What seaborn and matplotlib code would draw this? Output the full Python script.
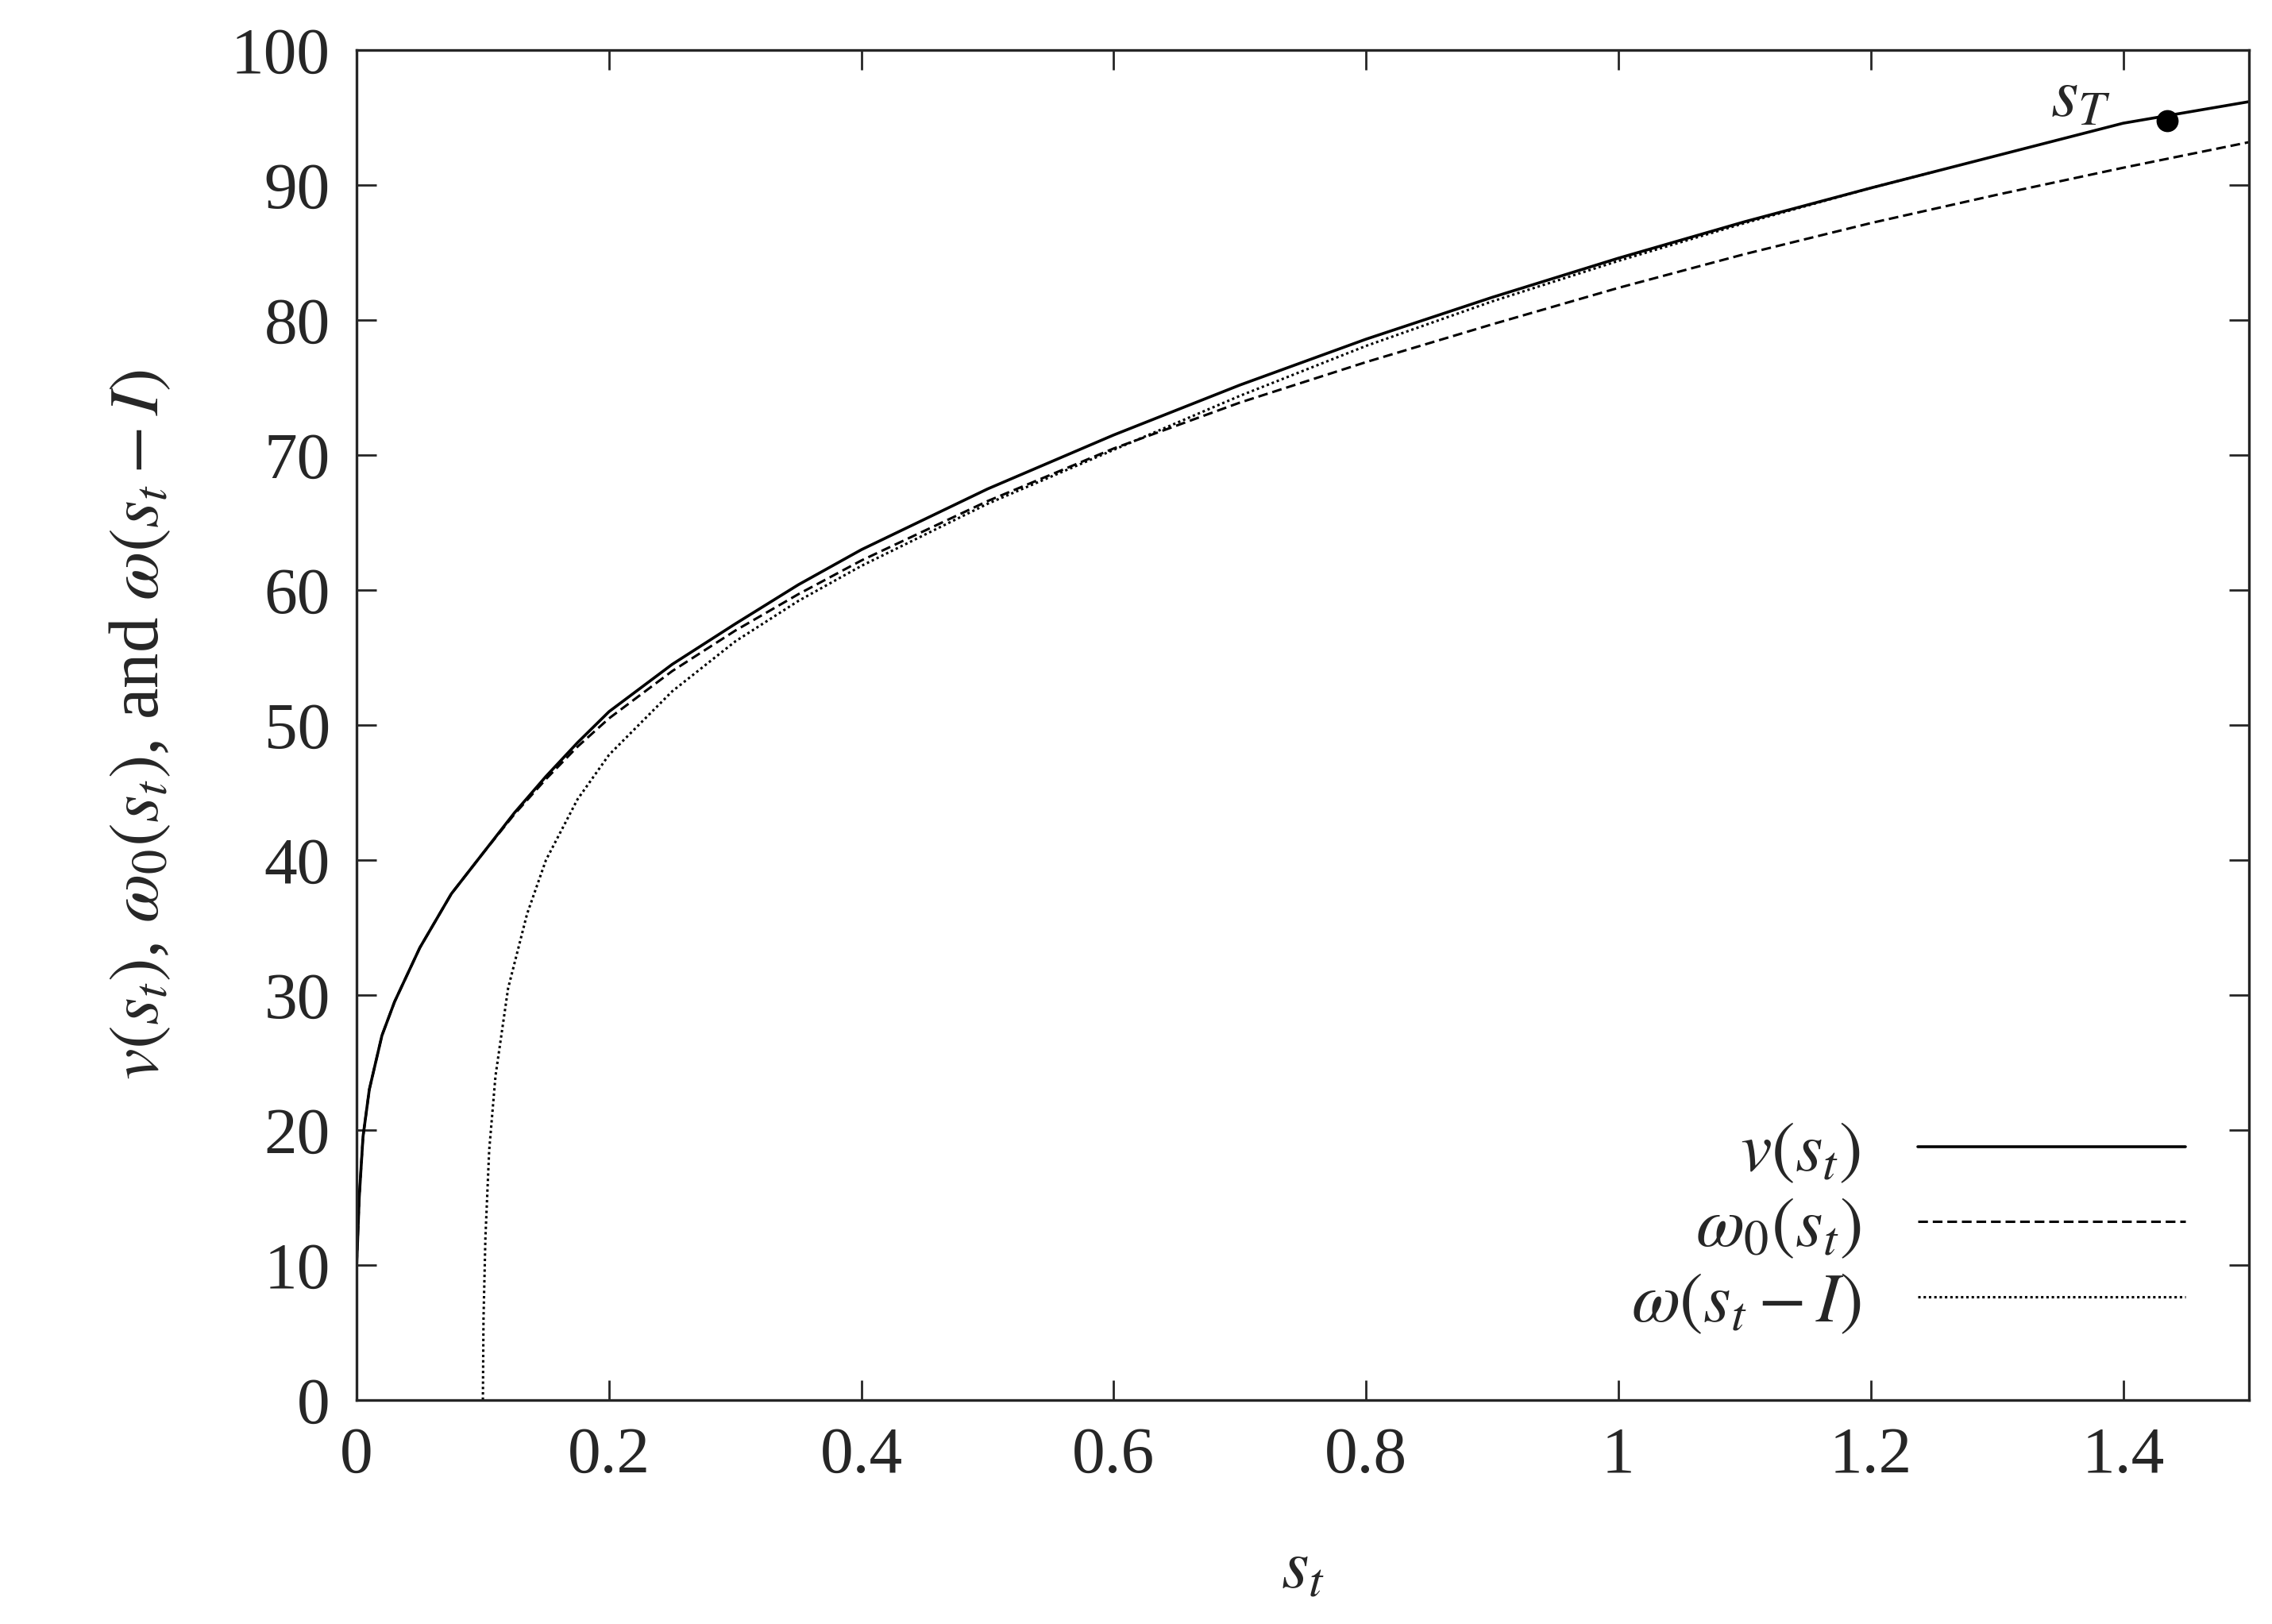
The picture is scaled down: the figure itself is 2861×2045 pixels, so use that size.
import matplotlib
matplotlib.use("Agg")
import matplotlib.pyplot as plt
import pandas as pd
import seaborn as sns

# values
s_v = [0.0, 0.002, 0.005, 0.01, 0.02, 0.03, 0.05, 0.075, 0.1, 0.125, 0.15, 0.175, 0.2, 0.25,
       0.3, 0.35, 0.4, 0.5, 0.6, 0.7, 0.8, 0.9, 1.0, 1.1, 1.2, 1.3, 1.4, 1.5]
v = [10.0, 15.0, 19.5, 23.0, 27.0, 29.5, 33.5, 37.5, 40.5, 43.5, 46.2, 48.7, 51.0, 54.5,
     57.5, 60.4, 63.0, 67.5, 71.5, 75.2, 78.6, 81.7, 84.6, 87.3, 89.8, 92.2, 94.6, 96.2]
w0 = [10.0, 15.0, 19.5, 23.0, 27.0, 29.5, 33.5, 37.5, 40.5, 43.4, 46.0, 48.4, 50.5, 54.0,
      57.0, 59.7, 62.2, 66.6, 70.5, 73.9, 76.9, 79.7, 82.4, 84.9, 87.2, 89.3, 91.3, 93.2]
s_w = [0.1, 0.1005, 0.102, 0.105, 0.11, 0.12, 0.135, 0.15, 0.175, 0.2, 0.25, 0.3, 0.35,
       0.4, 0.5, 0.6, 0.7, 0.8, 0.9, 1.0, 1.1, 1.2, 1.25]
w = [0.0, 6.0, 12.0, 18.5, 24.0, 30.5, 36.0, 40.0, 44.5, 47.8, 52.5, 56.2, 59.2,
     61.8, 66.4, 70.4, 74.4, 78.1, 81.4, 84.4, 87.2, 89.8, 91.0]
s_T = 1.435
v_T = 94.8

sns.set_style("ticks")
plt.rcParams["font.family"] = ["Liberation Serif", "DejaVu Serif"]
plt.rcParams["mathtext.fontset"] = "stix"
plt.rcParams["xtick.direction"] = "in"
plt.rcParams["ytick.direction"] = "in"

fig = plt.figure(figsize=(14.305, 10.225), dpi=200)
ax = fig.add_axes([0.157, 0.138, 0.833, 0.831])

df_v = pd.DataFrame({"s": s_v, "v": v, "w0": w0})
df_w = pd.DataFrame({"s": s_w, "w": w})
sns.lineplot(data=df_v, x="s", y="v", ax=ax, color="black", lw=1.3, label=r"$v(s_t)$")
sns.lineplot(data=df_v, x="s", y="w0", ax=ax, color="black", lw=1.1,
             linestyle=(0, (4, 2)), label=r"$\omega_0(s_t)$")
sns.lineplot(data=df_w, x="s", y="w", ax=ax, color="black", lw=1.1,
             linestyle=(0, (1, 1.2)), label=r"$\omega(s_t - I)$")
ax.plot([s_T], [v_T], "o", color="black", ms=9)
ax.text(s_T - 0.045, v_T - 0.8, r"$s_T$", fontsize=32, ha="right", va="bottom")

ax.set_xlim(0, 1.5)
ax.set_ylim(0, 100)
ax.set_xticks([0, 0.2, 0.4, 0.6, 0.8, 1.0, 1.2, 1.4])
ax.set_xticklabels(["0", "0.2", "0.4", "0.6", "0.8", "1", "1.2", "1.4"])
ax.set_yticks(range(0, 101, 10))
ax.tick_params(labelsize=30, length=9, width=1, top=True, right=True, pad=12)
for sp in ax.spines.values():
    sp.set_linewidth(1.2)
ax.set_xlabel(r"$s_t$", fontsize=32, labelpad=24)
ax.set_ylabel(r"$v(s_t)$, $\omega_0(s_t)$, and $\omega(s_t - I)$", fontsize=32, labelpad=26)

ax.legend(loc="lower right", frameon=False, markerfirst=False, fontsize=32,
          handlelength=3.8, labelspacing=0.15, borderaxespad=0.5)

fig.savefig("out.png", dpi=200)
